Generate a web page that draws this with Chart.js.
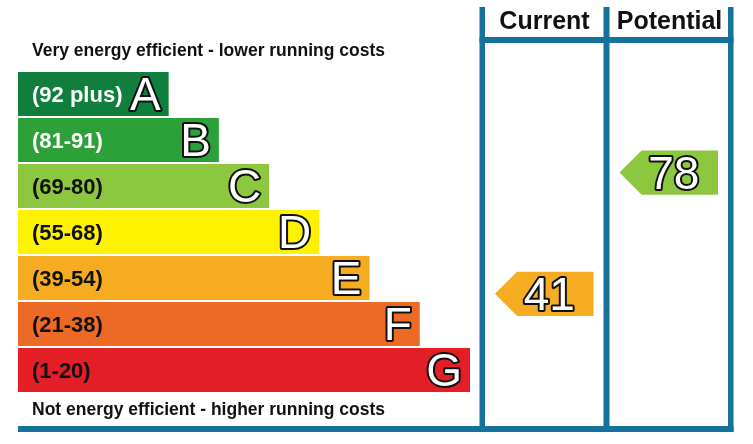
<!DOCTYPE html>
<html>
<head>
<meta charset="utf-8">
<script src="https://cdn.jsdelivr.net/npm/chart.js@4.4.1/dist/chart.umd.min.js"></script>
<style>
  html, body { margin: 0; padding: 0; background: #fff; }
  #wrap { width: 753px; height: 444px; }
</style>
</head>
<body>
<div id="wrap"><canvas id="epc" width="753" height="444"></canvas></div>
<script>
// energy bands, top (best) to bottom (worst)
var bands = ['A', 'B', 'C', 'D', 'E', 'F', 'G'];
var bandRanges = ['(92 plus)', '(81-91)', '(69-80)', '(55-68)', '(39-54)', '(21-38)', '(1-20)'];
var bandMin = [92, 81, 69, 55, 39, 21, 1];
var bandMax = [100, 91, 80, 68, 54, 38, 20];
var barLength = [3, 4, 5, 6, 7, 8, 9];
var bandColors = ['#107f3e', '#2ca13a', '#8dc63f', '#fff200', '#f6ac20', '#ec6a25', '#e31e26'];
var labelColors = ['#ffffff', '#ffffff', '#111111', '#111111', '#111111', '#111111', '#111111'];

// ratings
var columns = ['Current', 'Potential'];
var ratings = [41, 78];

var FONT = "'Liberation Sans', Arial, Helvetica, sans-serif";
var BLUE = '#14729c';

function bandIndex(v) {
    for (var i = 0; i < bandMin.length; i++) {
        if (v >= bandMin[i]) return i;
    }
    return bandMin.length - 1;
}

// fractional position on the band axis, so the arrow sits inside its band
function ratingPos(v) {
    var i = bandIndex(v);
    var mid = (bandMin[i] + bandMax[i]) / 2;
    return i + (mid - v) / (bandMax[i] - bandMin[i] + 1);
}

function outlined(ctx, txt, x, y, font, align) {
    ctx.font = font;
    ctx.textAlign = align;
    ctx.textBaseline = 'alphabetic';
    ctx.lineJoin = 'round';
    ctx.lineWidth = 4;
    ctx.strokeStyle = '#111';
    ctx.strokeText(txt, x, y);
    ctx.fillStyle = '#fff';
    ctx.fillText(txt, x, y);
}

var epcFrame = {
    id: 'epcFrame',
    beforeDatasetsDraw: function(chart) {
        var ctx = chart.ctx;
        ctx.save();
        ctx.fillStyle = BLUE;
        // column borders
        ctx.fillRect(479.5, 7, 5.5, 425);
        ctx.fillRect(603.5, 7, 6, 425);
        ctx.fillRect(728, 7, 5.5, 425);
        ctx.fillRect(479.5, 37, 254, 6);
        // bottom rule
        ctx.fillRect(chart.chartArea.left, 426, 733.5 - chart.chartArea.left, 6);

        ctx.fillStyle = '#111';
        ctx.textBaseline = 'alphabetic';
        ctx.font = 'bold 25px ' + FONT;
        ctx.textAlign = 'center';
        ctx.fillText(columns[0], 544.5, 29);
        ctx.fillText(columns[1], 669.5, 29);

        ctx.font = 'bold 17.5px ' + FONT;
        ctx.textAlign = 'left';
        ctx.fillText('Very energy efficient - lower running costs', 32, 56);
        ctx.fillText('Not energy efficient - higher running costs', 32, 415);
        ctx.restore();
    },
    afterDatasetsDraw: function(chart) {
        var ctx = chart.ctx;
        var meta = chart.getDatasetMeta(0);
        var yScale = chart.scales.y;
        ctx.save();
        meta.data.forEach(function(bar, i) {
            var p = bar.getProps(['x', 'y', 'height'], true);
            ctx.font = 'bold 22px ' + FONT;
            ctx.textAlign = 'left';
            ctx.textBaseline = 'alphabetic';
            ctx.fillStyle = labelColors[i];
            ctx.fillText(bandRanges[i], 32, p.y + 8);
            outlined(ctx, bands[i], p.x - 8, p.y + 16, '46px ' + FONT, 'right');
        });

        var h = meta.data[0].getProps(['height'], true).height;
        var cols = [[485, 603.5], [609.5, 728]];
        ratings.forEach(function(v, k) {
            var cy = yScale.getPixelForValue(ratingPos(v));
            var left = cols[k][0] + 10;
            var right = cols[k][1] - 10;
            var tip = h / 2;
            ctx.beginPath();
            ctx.moveTo(left, cy);
            ctx.lineTo(left + tip, cy - h / 2);
            ctx.lineTo(right, cy - h / 2);
            ctx.lineTo(right, cy + h / 2);
            ctx.lineTo(left + tip, cy + h / 2);
            ctx.closePath();
            ctx.fillStyle = bandColors[bandIndex(v)];
            ctx.fill();
            outlined(ctx, String(v), (left + tip + right) / 2 - 6, cy + 16.5, '46px ' + FONT, 'center');
        });
        ctx.restore();
    }
};

new Chart(document.getElementById('epc'), {
    type: 'bar',
    data: {
        labels: bands,
        datasets: [{
            data: barLength,
            backgroundColor: bandColors,
            borderWidth: 0,
            barPercentage: 0.96,
            categoryPercentage: 1
        }]
    },
    options: {
        indexAxis: 'y',
        responsive: false,
        animation: false,
        devicePixelRatio: 1,
        layout: { padding: { left: 18, right: 283, top: 71, bottom: 51 } },
        scales: {
            x: { display: false, min: 0, max: 9 },
            y: { display: false }
        },
        plugins: {
            legend: { display: false },
            tooltip: { enabled: false }
        }
    },
    plugins: [epcFrame]
});
</script>
</body>
</html>
